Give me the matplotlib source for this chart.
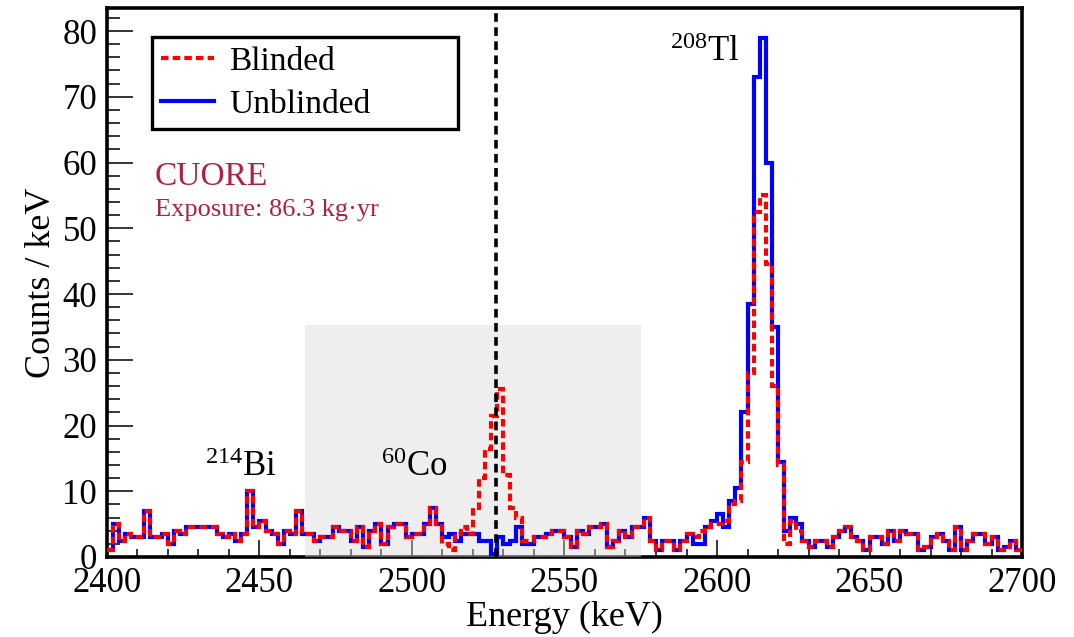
import numpy as np
import matplotlib
matplotlib.use("Agg")
import matplotlib.pyplot as plt
from matplotlib.patches import Rectangle
from matplotlib.lines import Line2D

plt.rcParams['font.family'] = 'Liberation Serif'
plt.rcParams['mathtext.fontset'] = 'custom'
plt.rcParams['mathtext.rm'] = 'Liberation Serif'
plt.rcParams['mathtext.default'] = 'regular'

# spectrum, 2 keV bins from 2400 to 2700 keV, counts / keV
bin_lo, bin_hi, bin_w = 2400, 2700, 2

unblinded = [
    1, 5, 2.5, 3.5, 3, 3, 7, 3, 3, 3.5,
    2, 4, 3.5, 4.5, 4.5, 4.5, 4.5, 4.5, 3.5, 3,
    3.5, 2.5, 3.5, 10, 4.5, 5.5, 4, 3.5, 2, 4,
    3.5, 7, 3.5, 3.5, 2.5, 3, 3, 4.5, 4, 4,
    2.5, 4.5, 1.5, 4, 5, 2, 4.5, 5, 5, 3,
    3.5, 3.5, 5, 7.5, 5, 3, 3.5, 2.5, 3.5, 3.5,
    3.5, 2.5, 2.5, 0.5, 3, 2, 2.5, 4.5, 2, 2,
    3, 3, 3.5, 4, 4, 3, 1.5, 4, 3.5, 4.5,
    4.5, 5, 1.5, 2.5, 4, 3, 4.5, 4.5, 6, 2.5,
    1, 2.5, 2.5, 1, 2.5, 3.5, 2, 2, 4.5, 5.5,
    6.5, 4.5, 8.5, 10.5, 22, 38.5, 73, 79, 60, 35,
    14.5, 4, 6, 5, 2.5, 1.5, 2.5, 2.5, 1.5, 3,
    4, 4.5, 3, 2.5, 1, 3, 3, 2, 4, 2.5,
    4, 3.5, 3.5, 1, 1.5, 3, 3.5, 2.5, 1, 4.5,
    1, 2.5, 3.5, 3.5, 2, 3, 1, 1.5, 2.5, 1,
]

blinded = [
    1, 5, 2.5, 3.5, 3, 3, 7, 3, 3, 3.5,
    2, 4, 3.5, 4.5, 4.5, 4.5, 4.5, 4.5, 3.5, 3,
    3.5, 2.5, 3.5, 10, 4.5, 5.5, 4, 3.5, 2, 4,
    3.5, 7, 3.5, 3.5, 2.5, 3, 3, 4.5, 4, 4,
    2.5, 4.5, 1.5, 4, 5, 2, 4.5, 5, 5, 3,
    3.5, 3.5, 5, 7.5, 5, 2, 1, 3.5, 4.5, 3.5,
    7.5, 12, 16.5, 21.5, 25.5, 12.5, 7.5, 6, 2.5, 2.5,
    3, 3, 3.5, 4, 4, 3, 1.5, 4, 3.5, 4.5,
    4.5, 5, 1.5, 2.5, 4, 3, 4.5, 4.5, 6, 2.5,
    1, 2.5, 2.5, 1, 2.5, 3.5, 3, 4, 4.5, 5,
    5, 5.5, 8, 8.5, 14.5, 28, 52.5, 55, 44.5, 26,
    14, 2, 5.5, 4, 2.5, 1.5, 2.5, 2.5, 1.5, 3,
    4, 4.5, 3, 2.5, 1, 3, 3, 2, 4, 2.5,
    4, 3.5, 3.5, 1, 1.5, 3, 3.5, 2.5, 1, 4.5,
    1, 2.5, 3.5, 3.5, 2, 3, 1, 1.5, 2.5, 1,
]

q_value = 2527.5
blind_lo, blind_hi, blind_top = 2465, 2575, 35.3

edges = np.arange(bin_lo, bin_hi + bin_w, bin_w)

fig = plt.figure(figsize=(10.74, 6.37), dpi=100)
ax = fig.add_axes([0.0996, 0.1256, 0.852, 0.8618])

red_dash = (0, (1.8, 1.0))

# shaded window (sits over the axis line, like in the original)
ax.add_patch(Rectangle((blind_lo, 0), blind_hi - blind_lo, blind_top,
                       facecolor='#d8d8d8', alpha=0.42, edgecolor='none', zorder=3))

ax.stairs(unblinded, edges, baseline=None, color='#0000ff', lw=3, zorder=4)
ax.stairs(blinded, edges, baseline=None, color='#ff0000', lw=3,
          linestyle=red_dash, zorder=5)

ax.axvline(q_value, color='black', lw=2.6, linestyle=(0, (2.4, 1.5)), zorder=6)

ax.set_xlim(bin_lo, bin_hi)
ax.set_ylim(0, 83.5)

ax.set_xticks(np.arange(2400, 2701, 50))
ax.set_xticks(np.arange(2400, 2701, 10), minor=True)
ax.set_yticks(np.arange(0, 81, 10))
ax.set_yticks(np.arange(0, 83, 2), minor=True)

ax.tick_params(axis='both', which='both', direction='in', top=False, right=False,
               width=1.1, labelsize=25)
ax.tick_params(axis='x', which='major', length=12, pad=7)
ax.tick_params(axis='x', which='minor', length=6)
ax.tick_params(axis='y', which='major', length=19, pad=7)
ax.tick_params(axis='y', which='minor', length=9)

for s in ax.spines.values():
    s.set_linewidth(2.6)

ax.set_xlabel('Energy (keV)', fontsize=26, labelpad=1)
ax.set_ylabel('Counts / keV', fontsize=26, labelpad=3)

# isotope labels
ax.text(2432, 12.3, r'$^{214}$Bi', fontsize=25, zorder=7)
ax.text(2490, 12.3, r'$^{60}$Co', fontsize=25, zorder=7)
ax.text(2584.5, 75.5, r'$^{208}$Tl', fontsize=25, zorder=7)

ax.text(0.052, 0.678, 'CUORE', transform=ax.transAxes, fontsize=24, color='#b02040')
ax.text(0.052, 0.622, 'Exposure: 86.3 kg\u00b7yr', transform=ax.transAxes,
        fontsize=19, color='#b02040')

handles = [Line2D([], [], color='#ff0000', lw=3, linestyle=red_dash),
           Line2D([], [], color='#0000ff', lw=3)]
leg = ax.legend(handles, ['Blinded', 'Unblinded'], loc='upper left',
                bbox_to_anchor=(0.049, 0.778, 0.335, 0.169), mode='expand',
                borderaxespad=0, fontsize=24, handlelength=1.6, handletextpad=0.45,
                labelspacing=0.38, borderpad=0.28, fancybox=False, framealpha=1)
leg.get_frame().set_edgecolor('black')
leg.get_frame().set_linewidth(2.4)
leg.set_zorder(8)

fig.savefig('out.png', dpi=100)
